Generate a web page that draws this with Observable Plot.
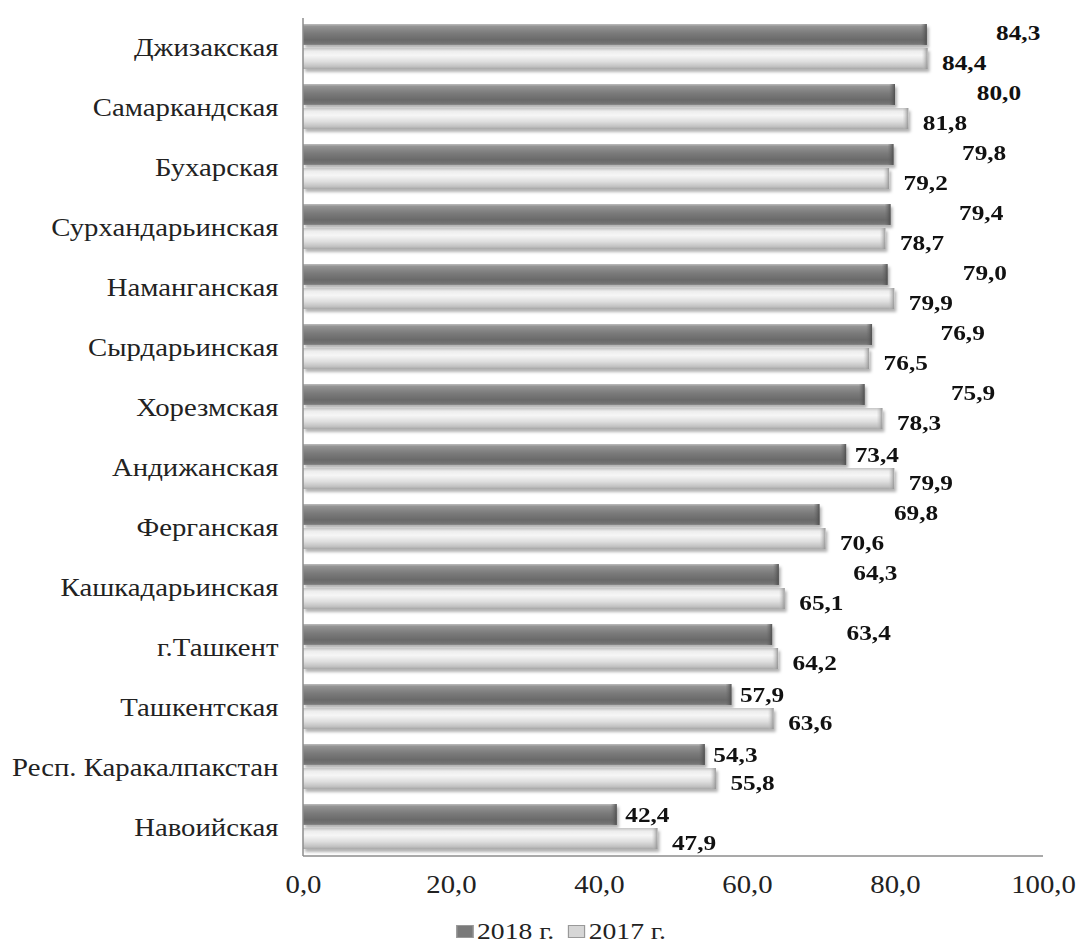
<!DOCTYPE html>
<html>
<head>
<meta charset="utf-8">
<script src="https://cdn.jsdelivr.net/npm/d3@7"></script>
<script src="https://cdn.jsdelivr.net/npm/@observablehq/plot@0.6"></script>
<style>
  body { margin: 0; background: #fff; overflow: hidden; }
  #chart svg text { font-family: "Liberation Serif", "Times New Roman", "DejaVu Serif", serif; }
  #legend { height: 40px; box-sizing: border-box; padding-top: 12px; padding-left: 40px;
    display: flex; justify-content: center; align-items: center;
    font-family: "Liberation Serif", "Times New Roman", "DejaVu Serif", serif; font-size: 24px; color: #222; }
  #legend .inner { transform: scaleX(1.15); display: flex; gap: 12px; align-items: center; }
  .sw { display: inline-block; width: 13px; height: 11px; margin-right: 3px; vertical-align: 1px; }
</style>
</head>
<body>
<div id="chart"></div>
<div id="legend"><div class="inner"></div></div>
<script>
const regions = ["Джизакская","Самаркандская","Бухарская","Сурхандарьинская","Наманганская","Сырдарьинская","Хорезмская","Андижанская","Ферганская","Кашкадарьинская","г.Ташкент","Ташкентская","Респ. Каракалпакстан","Навоийская"];
const v2018 = [84.3,80.0,79.8,79.4,79.0,76.9,75.9,73.4,69.8,64.3,63.4,57.9,54.3,42.4];
const v2017 = [84.4,81.8,79.2,78.7,79.9,76.5,78.3,79.9,70.6,65.1,64.2,63.6,55.8,47.9];
const years = ["2018 г.","2017 г."];
const xTicks = [0,20,40,60,80,100];

const fmt = v => v.toFixed(1).replace(".", ",");
const d18 = regions.map((r,i) => ({region:r, year:years[0], value:v2018[i], other:v2017[i]}));
const d17 = regions.map((r,i) => ({region:r, year:years[1], value:v2017[i]}));
const isNear = d => d.other - d.value > 3 || d.value < 55;
const near18 = d18.filter(isNear);
const far18 = d18.filter(d => !isNear(d));

const W = 1082, H = 905, mL = 303, mR = 39, mT = 18, mB = 49;
const FF = '"Liberation Serif", "Times New Roman", "DejaVu Serif", serif';
const STRETCH = 1.15;

const chart = Plot.plot({
  width: W, height: H,
  marginLeft: mL, marginRight: mR, marginTop: mT, marginBottom: mB,
  style: {fontFamily: FF, fontSize: "25px", color: "#222", background: "#fff"},
  x: {domain: [0,100], ticks: xTicks, tickFormat: fmt, tickSize: 0, tickPadding: 25, label: null},
  y: {domain: years, axis: null, paddingInner: 0.12, paddingOuter: 0},
  fy: {domain: regions, label: null, tickSize: 0, tickPadding: 25, padding: 0.23},
  marks: [
    Plot.barX(d18, {x: "value", y: "year", fy: "region", fill: "url(#g18)", inset: 0}),
    Plot.barX(d17, {x: "value", y: "year", fy: "region", fill: "url(#g17)", inset: 0}),
    Plot.barX(d18, {x1: d => d.value - 0.8, x2: "value", y: "year", fy: "region", fill: "url(#e18)", inset: 0}),
    Plot.barX(d17, {x1: d => d.value - 0.8, x2: "value", y: "year", fy: "region", fill: "url(#e17)", inset: 0}),
    Plot.text(d17, {x: "value", y: "year", fy: "region", text: d => fmt(d.value), textAnchor: "start", dx: 14, dy: 4,
      fontSize: 22, fontWeight: "bold", fill: "#111"}),
    Plot.text(near18, {x: "value", y: "year", fy: "region", text: d => fmt(d.value), textAnchor: "start", dx: 8, dy: 0,
      fontSize: 22, fontWeight: "bold", fill: "#111"}),
    Plot.text(far18, {x: d => Math.max(d.value, d.other), y: "year", fy: "region", text: d => fmt(d.value), textAnchor: "start", dx: 68, dy: -2,
      fontSize: 22, fontWeight: "bold", fill: "#111"})
  ]
});

const svg = d3.select(chart);
const defs = svg.insert("defs", ":first-child");
function vgrad(id, stops) {
  const g = defs.append("linearGradient").attr("id", id).attr("x1",0).attr("y1",0).attr("x2",0).attr("y2",1);
  stops.forEach(([o,c]) => g.append("stop").attr("offset", o).attr("stop-color", c));
}
function hgrad(id, c0, c1) {
  const g = defs.append("linearGradient").attr("id", id).attr("x1",0).attr("y1",0).attr("x2",1).attr("y2",0);
  g.append("stop").attr("offset", 0).attr("stop-color", c0).attr("stop-opacity", 0);
  g.append("stop").attr("offset", 1).attr("stop-color", c1).attr("stop-opacity", 0.9);
}
vgrad("g18", [[0,"#bdbdbd"],[0.12,"#939393"],[0.45,"#7a7a7a"],[0.75,"#6a6a6a"],[0.92,"#727272"],[1,"#8a8a8a"]]);
vgrad("g17", [[0,"#c4c4c4"],[0.15,"#ececec"],[0.35,"#f6f6f6"],[0.65,"#dedede"],[0.88,"#c2c2c2"],[1,"#a8a8a8"]]);
hgrad("e18", "#6a6a6a", "#4a4a4a");
hgrad("e17", "#c8c8c8", "#8e8e8e");
const f = defs.append("filter").attr("id","sh").attr("x","-5%").attr("y","-20%").attr("width","110%").attr("height","160%");
f.append("feDropShadow").attr("dx",2).attr("dy",3).attr("stdDeviation",1.8).attr("flood-color","#000").attr("flood-opacity",0.3);
svg.selectAll('g[aria-label="bar"]').filter((d,i) => i < 2).attr("filter","url(#sh)");

// the reference's type is horizontally stretched: widen every text about its anchor
svg.selectAll("text").each(function() {
  const x = +this.getAttribute("x") || 0, y = +this.getAttribute("y") || 0;
  const t = this.getAttribute("transform") || "";
  this.setAttribute("transform", `${t} translate(${x},${y}) scale(${STRETCH},1) translate(${-x},${-y})`);
});

svg.append("line").attr("x1", mL).attr("x2", mL).attr("y1", mT).attr("y2", H - mB)
  .attr("stroke", "#8c8c8c").attr("stroke-width", 1.5);
svg.append("line").attr("x1", mL).attr("x2", W - mR).attr("y1", H - mB).attr("y2", H - mB)
  .attr("stroke", "#8c8c8c").attr("stroke-width", 1.5);

document.getElementById("chart").appendChild(chart);

const lg = document.querySelector("#legend .inner");
[["#7a7a7a", years[0]], ["#d6d6d6", years[1]]].forEach(([c, t]) => {
  const s = document.createElement("span");
  s.innerHTML = `<span class="sw" style="background:${c};border:1px solid #999"></span>${t}`;
  lg.appendChild(s);
});
</script>
</body>
</html>
